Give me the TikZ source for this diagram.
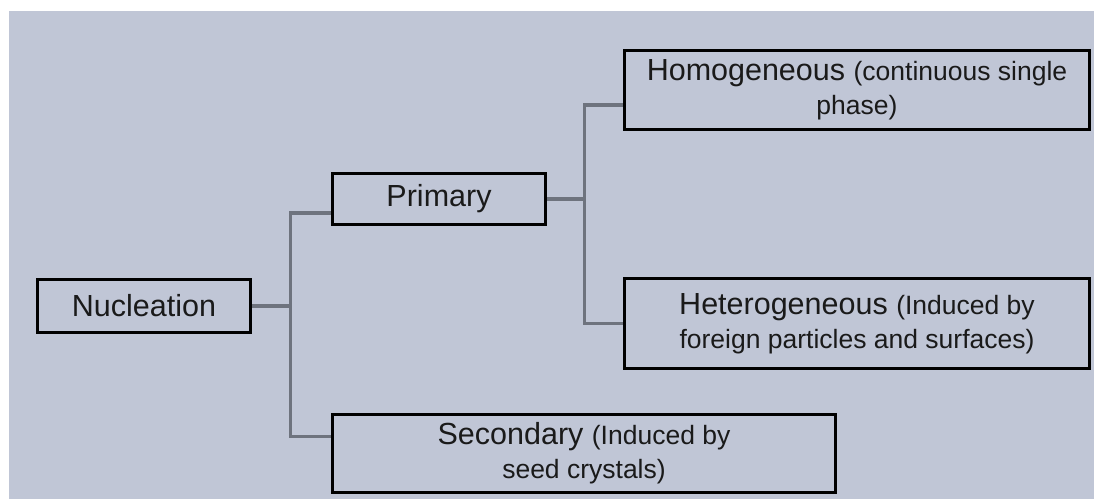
\documentclass[tikz,border=0pt]{standalone}
\usepackage{fontspec}
\setmainfont{Liberation Sans}
\definecolor{bgblue}{HTML}{C0C6D6}
\definecolor{linkgray}{HTML}{6E737E}
\definecolor{textdark}{HTML}{1A1A1A}
\newcommand{\smallnote}[1]{{\fontsize{26.5}{34}\selectfont #1}}
\begin{document}
\begin{tikzpicture}[x=1pt, y=-1pt,
  box/.style={draw, rectangle, line width=3.8pt, fill=bgblue, text=textdark, inner sep=0pt, align=center, font=\fontsize{30.5}{34}\selectfont},
  link/.style={draw=linkgray, line width=3.8pt}]
\useasboundingbox (0,0) rectangle (1094,499);
\fill[bgblue] (9,11) rectangle (1094,499);
\node[box, minimum width=213pt, minimum height=53pt] (nucl) at (144,306) {Nucleation};
\node[box, minimum width=213pt, minimum height=51pt] (prim) at (439,199) {Primary};
\node[box, minimum width=465pt, minimum height=79pt] (homo) at (857,90) {Homogeneous \smallnote{(continuous single}\\\smallnote{phase)}};
\node[box, minimum width=465pt, minimum height=90pt] (hetero) at (857,323.5) {Heterogeneous \smallnote{(Induced by}\\\smallnote{foreign particles and surfaces)}};
\node[box, minimum width=503pt, minimum height=78pt] (second) at (584,453.5) {Secondary \smallnote{(Induced by}\\\smallnote{seed crystals)}};
% tree lines
\draw[link] (nucl.east) -- ++(38,0) coordinate (j1);
\draw[link] ([yshift=-14pt]prim.west) -| (j1) |- ([yshift=17pt]second.west);
\draw[link] (prim.east) -- ++(37,0) coordinate (j2);
\draw[link] ([yshift=-15pt]homo.west) -| (j2) |- (hetero.west);
\end{tikzpicture}
\end{document}
